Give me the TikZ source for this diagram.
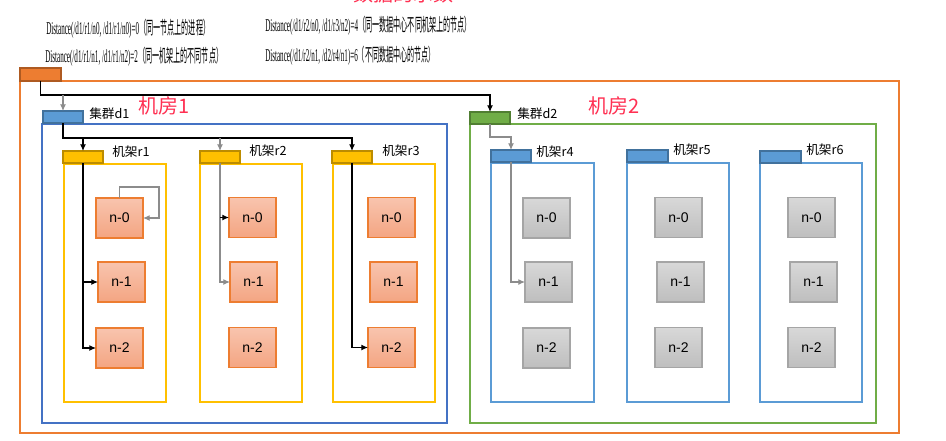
\documentclass[tikz,border=0pt]{standalone}
\usepackage{fontspec}
\setmainfont{Liberation Serif}
\newfontfamily\cjk{Noto Sans CJK SC}
\newfontfamily\arialf{Liberation Sans}
\usetikzlibrary{fit,arrows.meta}
\definecolor{orng}{HTML}{ED7D31}
\definecolor{orngd}{HTML}{AE5A21}
\definecolor{bluebox}{HTML}{4472C4}
\definecolor{bluetab}{HTML}{5B9BD5}
\definecolor{bluetabd}{HTML}{41719C}
\definecolor{yel}{HTML}{FFC000}
\definecolor{yeld}{HTML}{BC8C00}
\definecolor{grn}{HTML}{70AD47}
\definecolor{grnd}{HTML}{507E32}
\definecolor{salmt}{HTML}{F8C4AE}
\definecolor{salmb}{HTML}{F4A582}
\definecolor{gryt}{HTML}{D8D8D8}
\definecolor{gryb}{HTML}{BEBEBE}
\definecolor{gryd}{HTML}{A5A5A5}
\definecolor{redtxt}{HTML}{FF3052}
\definecolor{lgray}{HTML}{8C8C8C}
\newcommand{\distline}[3]{\resizebox{#1}{\height}{#2{\cjk #3}}}
\begin{document}
\begin{tikzpicture}[x=0.75pt,y=-0.75pt,
  box/.style={draw, line width=0.8pt, inner sep=0pt, outer sep=0pt},
  tabbox/.style={draw, line width=0.8pt, inner sep=0pt, outer sep=0pt},
  pn/.style={draw=orng, line width=0.8pt, top color=salmt, bottom color=salmb,
    minimum width=35.25pt, minimum height=30pt, inner sep=0pt, outer sep=0pt,
    font=\arialf\fontsize{10.5}{12}\selectfont},
  gn/.style={pn, draw=gryd, top color=gryt, bottom color=gryb},
  lab/.style={anchor=west, inner sep=0pt, font=\cjk\fontsize{9.5}{11}\selectfont},
  room/.style={anchor=west, inner sep=0pt, text=redtxt, font=\cjk\fontsize{15}{17}\selectfont},
  dist/.style={anchor=west, inner sep=0pt, font=\fontsize{13.5}{15}\selectfont},
  conn/.style={line width=0.9pt, black},
  arr/.style={conn, -{Latex[length=5pt,width=4.5pt]}},
  garr/.style={arr, draw=lgray}]
\useasboundingbox (0,0) rectangle (946,440);
\fill[white] (0,0) rectangle (946,440);

% title (cut off at the top edge, as in the reference)
\node[text=redtxt, font=\cjk\fontsize{15}{17}\selectfont, inner sep=0pt] (title) at (403,-6) {数据的示数};

% distance texts
\node[dist] (t1) at (46,29) {\distline{123pt}{Distance(/d1/r1/n0, /d1/r1/n0)=0}{（同一节点上的进程）}};
\node[dist] (t2) at (45,57) {\distline{133.5pt}{Distance(/d1/r1/n1, /d1/r1/n2)=2}{（同一机架上的不同节点）}};
\node[dist] (t3) at (265,26) {\distline{155pt}{Distance(/d1/r2/n0, /d1/r3/n2)=4}{（同一数据中心不同机架上的节点）}};
\node[dist] (t4) at (265,56) {\distline{128pt}{Distance(/d1/r2/n1, /d2/r4/n1)=6}{（不同数据中心的节点）}};

% outer box
\node[box, draw=orng, fit={(20,81)(899,433)}] (outer) {};
\node[tabbox, draw=orngd, fill=orng, fit={(20,68)(61,81)}] (ot) {};

% data center 1
\node[box, draw=bluebox, fit={(42,124)(447,423)}] (d1b) {};
\node[tabbox, draw=bluetabd, fill=bluetab, fit={(43,111)(83,123)}] (d1t) {};
\node[lab] (d1l) at (89,114) {集群d1};
\node[room] (room1) at (138,106) {机房1};

% data center 2
\node[box, draw=grn, fit={(470,124)(876,423)}] (d2b) {};
\node[tabbox, draw=grnd, fill=grn, fit={(470,112)(510,124)}] (d2t) {};
\node[lab] (d2l) at (517,114) {集群d2};
\node[room] (room2) at (588,106) {机房2};

% racks r1-r3
\node[box, draw=yel, fit={(64,164)(166,402)}] (r1b) {};
\node[box, draw=yel, fit={(200,164)(302,402)}] (r2b) {};
\node[box, draw=yel, fit={(333,164)(435,402)}] (r3b) {};
\node[tabbox, draw=yeld, fill=yel, fit={(63,151)(103,163)}] (r1t) {};
\node[tabbox, draw=yeld, fill=yel, fit={(200,151)(240,163)}] (r2t) {};
\node[tabbox, draw=yeld, fill=yel, fit={(332,151)(372,163)}] (r3t) {};
\node[lab] (r1l) at (112,152) {机架r1};
\node[lab] (r2l) at (249,151) {机架r2};
\node[lab] (r3l) at (382,151) {机架r3};

% racks r4-r6
\node[box, draw=bluetab, fit={(491,163)(594,402)}] (r4b) {};
\node[box, draw=bluetab, fit={(627,163)(729,402)}] (r5b) {};
\node[box, draw=bluetab, fit={(760,163)(862,402)}] (r6b) {};
\node[tabbox, draw=bluetabd, fill=bluetab, fit={(491,150)(531,162)}] (r4t) {};
\node[tabbox, draw=bluetabd, fill=bluetab, fit={(627,150)(668,162)}] (r5t) {};
\node[tabbox, draw=bluetabd, fill=bluetab, fit={(760,151)(801,163)}] (r6t) {};
\node[lab] (r4l) at (536,152) {机架r4};
\node[lab] (r5l) at (673,150) {机架r5};
\node[lab] (r6l) at (806,150) {机架r6};

% nodes
\node[pn] (r1n0) at (119.5,218) {n-0};
\node[pn] (r1n1) at (121.5,282) {n-1};
\node[pn] (r1n2) at (119.5,348) {n-2};
\node[pn] (r2n0) at (252.5,217.5) {n-0};
\node[pn] (r2n1) at (253.5,282) {n-1};
\node[pn] (r2n2) at (252.5,347.5) {n-2};
\node[pn] (r3n0) at (391.5,217.5) {n-0};
\node[pn] (r3n1) at (393.5,282) {n-1};
\node[pn] (r3n2) at (391.5,347.5) {n-2};
\node[gn] (r4n0) at (546.5,218) {n-0};
\node[gn] (r4n1) at (548.5,282) {n-1};
\node[gn] (r4n2) at (546.5,348) {n-2};
\node[gn] (r5n0) at (678.5,217.5) {n-0};
\node[gn] (r5n1) at (680.5,282) {n-1};
\node[gn] (r5n2) at (678.5,347.5) {n-2};
\node[gn] (r6n0) at (811.5,217.5) {n-0};
\node[gn] (r6n1) at (813.5,282) {n-1};
\node[gn] (r6n2) at (811.5,347.5) {n-2};

% connectors
\coordinate (j0) at (490,95);
\coordinate (j1) at (352,138);
\coordinate (j2) at (511,137);
\coordinate (lp) at (159,187);
\draw[arr] (ot.south) |- (j0) -- (d2t.north);
\draw[garr] (d1t.north |- j0) -- (d1t.north);
\draw[arr] (d1t.south) |- (j1) -- (r3t.north);
\draw[arr] (r1t.north |- j1) -- (r1t.north);
\draw[garr] (r2t.north |- j1) -- (r2t.north);
\draw[garr] (d2t.south) |- (j2) -- (r4t.north);

\draw[arr] (r1t.south) |- (r1n2.west);
\draw[arr] (r1t.south |- r1n1.west) -- (r1n1.west);
\draw[garr] (r1n0.north) |- (lp) |- (r1n0.east);
\draw[garr] (r2t.south) |- (r2n1.west);
\draw[arr] (r2t.south |- r2n0.west) -- (r2n0.west);
\draw[arr] (r3t.south) |- (r3n2.west);
\draw[garr] (r4t.south) |- (r4n1.west);
\end{tikzpicture}
\end{document}
